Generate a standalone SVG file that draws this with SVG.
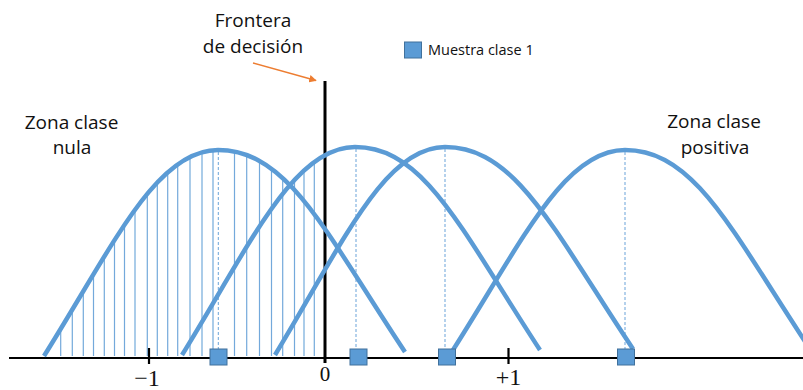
<svg xmlns="http://www.w3.org/2000/svg" width="803" height="390" viewBox="0 0 803 390">
<style>
.curve{fill:none;stroke:#5B9BD5;stroke-width:4.5;stroke-linecap:butt}
.hatch{stroke:#5B9BD5;stroke-width:1.2;opacity:0.85}
.dash{stroke:#5B9BD5;stroke-width:1;stroke-dasharray:3 2;opacity:0.9}
.sample{fill:#5B9BD5;stroke:#41719C;stroke-width:1}
.lbl{font-family:"Open Sans","Liberation Sans",sans-serif;font-size:19px;fill:#111;text-anchor:middle}
.num{font-family:"Liberation Serif",serif;fill:#111;text-anchor:middle}
.axis{stroke:#000;stroke-width:2.2}
</style>
<defs>
<marker id="arr" viewBox="0 0 10 10" refX="9" refY="5" markerWidth="5" markerHeight="5" orient="auto">
<path d="M0,0 L10,5 L0,10 z" fill="#ED7D31"/>
</marker>
<clipPath id="under12">
<path d="M44,356 C113.6,244.8 156.2,150 218,150 C288.1,150 324.6,230.8 405,352 L405,357 L44,357 Z"/>
<path d="M182,355 C251.2,242.7 293.6,147 355,147 C424.4,147 460.4,228.2 540,350 L540,357 L182,357 Z"/>
</clipPath>
</defs>

<g id="hatching" clip-path="url(#under12)">
<g class="hatch">
<line x1="60.7" y1="140" x2="60.7" y2="356"/>
<line x1="72.3" y1="140" x2="72.3" y2="356"/>
<line x1="83.3" y1="140" x2="83.3" y2="356"/>
<line x1="93.5" y1="140" x2="93.5" y2="356"/>
<line x1="104.3" y1="140" x2="104.3" y2="356"/>
<line x1="114.5" y1="140" x2="114.5" y2="356"/>
<line x1="124.5" y1="140" x2="124.5" y2="356"/>
<line x1="135" y1="140" x2="135" y2="356"/>
<line x1="147.3" y1="140" x2="147.3" y2="356"/>
<line x1="157.3" y1="140" x2="157.3" y2="356"/>
<line x1="167.7" y1="140" x2="167.7" y2="356"/>
<line x1="177.7" y1="140" x2="177.7" y2="356"/>
<line x1="190" y1="140" x2="190" y2="356"/>
<line x1="202" y1="140" x2="202" y2="356"/>
<line x1="213" y1="140" x2="213" y2="356"/>
<line x1="234.5" y1="140" x2="234.5" y2="356"/>
<line x1="246.7" y1="140" x2="246.7" y2="356"/>
<line x1="259.5" y1="140" x2="259.5" y2="356"/>
<line x1="271.5" y1="140" x2="271.5" y2="356"/>
<line x1="282.7" y1="140" x2="282.7" y2="356"/>
<line x1="294.5" y1="140" x2="294.5" y2="356"/>
<line x1="304" y1="140" x2="304" y2="356"/>
<line x1="314.3" y1="140" x2="314.3" y2="356"/>
</g>
</g>

<g id="dashes">
<line class="dash" x1="218.3" y1="152" x2="218.3" y2="349"/>
<line class="dash" x1="356" y1="149" x2="356" y2="349"/>
<line class="dash" x1="445" y1="149" x2="445" y2="349"/>
<line class="dash" x1="625" y1="152" x2="625" y2="349"/>
</g>

<g id="axis">
<line class="axis" x1="9" y1="358" x2="803" y2="358"/>
<line class="axis" x1="149" y1="348" x2="149" y2="364"/>
<line class="axis" x1="508.5" y1="348" x2="508.5" y2="364"/>
<line x1="325" y1="81" x2="325" y2="363" stroke="#000" stroke-width="3"/>
<text class="num" x="147" y="386" font-size="24">−1</text>
<text class="num" x="325" y="381" font-size="21">0</text>
<text class="num" x="508.5" y="385" font-size="24">+1</text>
</g>

<g id="curves">
<path id="curve1" class="curve" d="M44,356 C113.6,244.8 156.2,150 218,150 C288.1,150 324.6,230.8 405,352"/>
<path id="curve2" class="curve" d="M182,355 C251.2,242.7 293.6,147 355,147 C424.4,147 460.4,228.2 540,350"/>
<path id="curve3" class="curve" d="M275,355 C343,242.7 384.6,147 445,147 C515.5,147 552.2,227.8 633,349"/>
<path id="curve4" class="curve" d="M453,350 C521.8,242 563.9,150 625,150 C695.1,150 731.6,230.8 812,352"/>
</g>

<g id="samples">
<rect class="sample" x="210" y="349" width="17" height="16"/>
<rect class="sample" x="350" y="349" width="17" height="16"/>
<rect class="sample" x="438.5" y="349" width="17" height="16"/>
<rect class="sample" x="617.5" y="349" width="17" height="16"/>
</g>

<g id="connectors">
<line x1="253" y1="63" x2="316" y2="80.5" stroke="#ED7D31" stroke-width="1.5" marker-end="url(#arr)"/>
</g>

<g id="label-frontera">
<text class="lbl" x="253" y="27">Frontera</text>
<text class="lbl" x="253" y="53">de decisión</text>
</g>

<g id="legend">
<rect class="sample" x="404.5" y="42" width="17" height="16"/>
<text x="428" y="55" font-family="'Open Sans','Liberation Sans',sans-serif" font-size="14.5" fill="#111">Muestra clase 1</text>
</g>

<g id="label-nula">
<text class="lbl" x="71.5" y="129">Zona clase</text>
<text class="lbl" x="72" y="154">nula</text>
</g>

<g id="label-positiva">
<text class="lbl" x="714" y="128">Zona clase</text>
<text class="lbl" x="715" y="154">positiva</text>
</g>
</svg>
